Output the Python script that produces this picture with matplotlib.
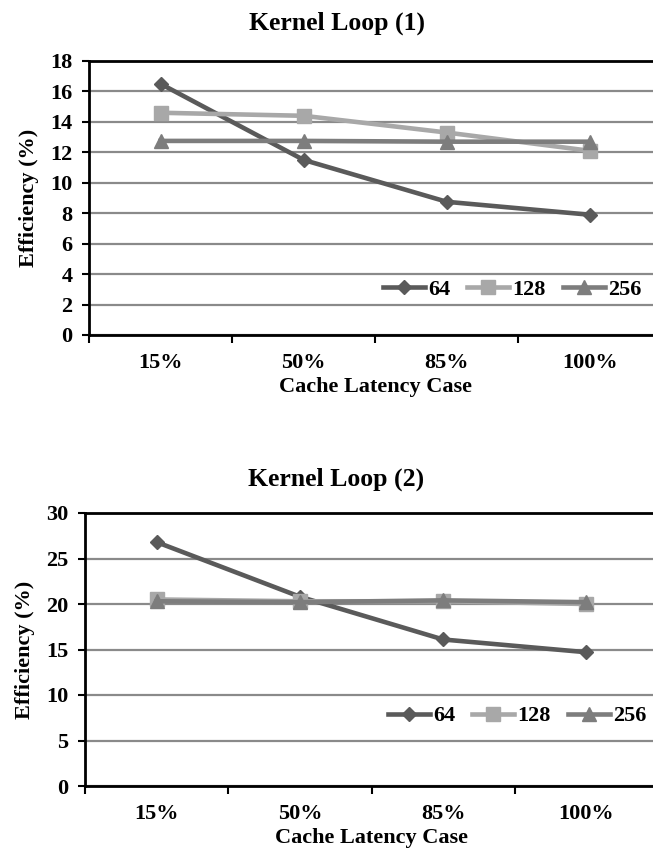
import matplotlib
matplotlib.use("Agg")
import matplotlib.pyplot as plt
import numpy as np

plt.rcParams["font.family"] = ["Liberation Serif", "DejaVu Serif"]
plt.rcParams["font.weight"] = "bold"

cases = ["15%", "50%", "85%", "100%"]
series_names = ["64", "128", "256"]

loop1_64 = [16.5, 11.5, 8.75, 7.9]
loop1_128 = [14.6, 14.4, 13.3, 12.1]
loop1_256 = [12.75, 12.75, 12.7, 12.7]

loop2_64 = [26.8, 20.8, 16.1, 14.7]
loop2_128 = [20.5, 20.3, 20.3, 20.0]
loop2_256 = [20.3, 20.2, 20.4, 20.2]

colors = ["#5a5a5a", "#a8a8a8", "#7d7d7d"]
markers = ["D", "s", "^"]
msizes = [7.5, 9.5, 9.5]

W, H = 653, 857
fig = plt.figure(figsize=(W / 100, H / 100), dpi=100)


def draw_panel(rect, title, title_xy, data, ymax, ystep, legend_anchor):
    ax = fig.add_axes(rect)
    x = np.arange(len(cases))
    for vals, c, m, ms, name in zip(data, colors, markers, msizes, series_names):
        ax.plot(x, vals, color=c, marker=m, markersize=ms, linewidth=3.3,
                markeredgecolor=c, label=name, zorder=3)
    ax.set_xlim(-0.5, len(cases) - 0.5)
    ax.set_ylim(0, ymax)
    ax.set_yticks(np.arange(0, ymax + 0.1, ystep))
    ax.yaxis.grid(True, color="#8a8a8a", linewidth=1.6)
    ax.set_axisbelow(True)
    # category boundaries as major ticks, labels on minor ticks
    ax.set_xticks(np.arange(-0.5, len(cases) - 0.5, 1.0))
    ax.set_xticklabels([])
    ax.set_xticks(x, minor=True)
    ax.set_xticklabels(cases, minor=True, fontsize=16, fontweight="bold")
    ax.tick_params(axis="x", which="major", direction="out", length=6, width=1.5)
    ax.tick_params(axis="x", which="minor", length=0, pad=13)
    ax.tick_params(axis="y", direction="out", length=5, width=1.5, labelsize=16, pad=7)
    for lab in ax.get_yticklabels():
        lab.set_fontweight("bold")
    for s in ax.spines.values():
        s.set_linewidth(2)
        s.set_color("black")
    ax.set_xlabel("Cache Latency Case", fontsize=16, fontweight="bold", labelpad=3)
    ax.set_ylabel("Efficiency (%)", fontsize=16, fontweight="bold", labelpad=8)
    leg = ax.legend(loc="center", bbox_to_anchor=legend_anchor, ncol=3, frameon=False,
                    fontsize=16, handlelength=1.9, handletextpad=0.15, columnspacing=0.75,
                    borderaxespad=0)
    for t in leg.get_texts():
        t.set_fontweight("bold")
    fig.text(title_xy[0] / W, 1 - title_xy[1] / H, title, ha="center", va="center",
             fontsize=18.5, fontweight="bold")
    return ax


draw_panel([89 / W, 1 - 335 / H, (661.5 - 89) / W, (335 - 61) / H],
           "Kernel Loop (1)", (337, 23),
           [loop1_64, loop1_128, loop1_256], 18, 2,
           ((512 - 89) / (661.5 - 89), (335 - 290) / (335 - 61)))

draw_panel([85 / W, 1 - 786 / H, (658 - 85) / W, (786 - 513) / H],
           "Kernel Loop (2)", (336, 479),
           [loop2_64, loop2_128, loop2_256], 30, 5,
           ((517 - 85) / (658 - 85), (786 - 716) / (786 - 513)))

fig.savefig("out.png", dpi=100)
